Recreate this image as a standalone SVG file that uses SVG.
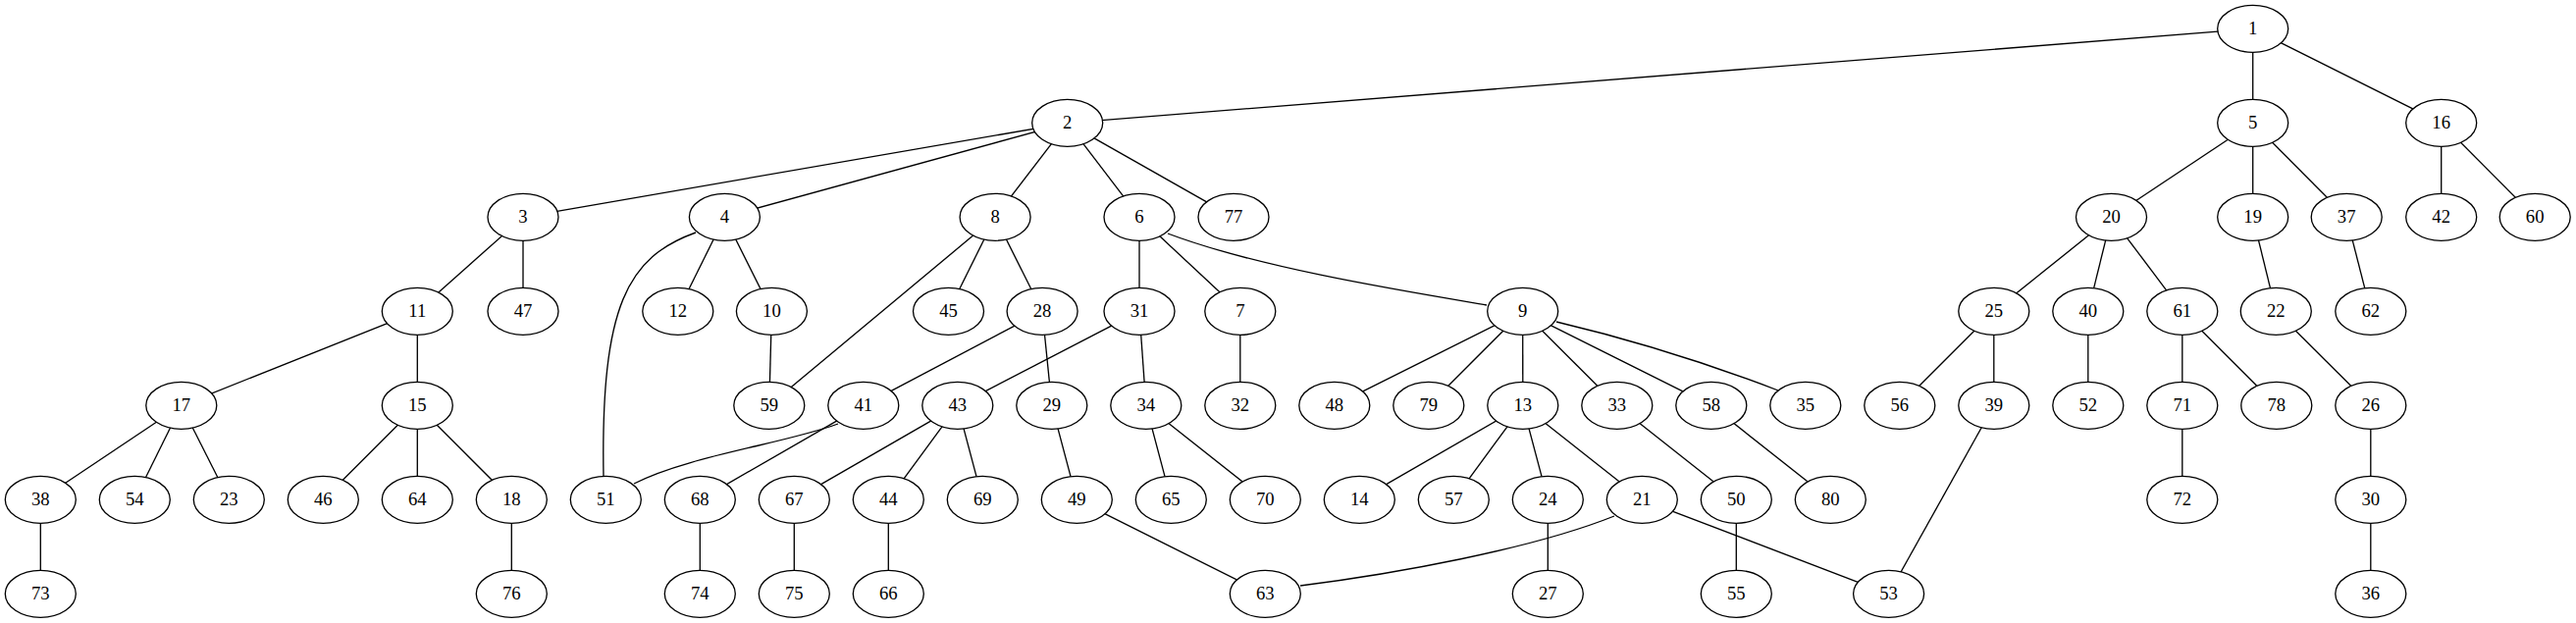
<svg xmlns="http://www.w3.org/2000/svg" width="2625" height="635" viewBox="0 0 2625 635">
<style>
.e line,.e path{stroke:#000;stroke-width:1.33;fill:none}
.n ellipse{fill:#fff;stroke:#000;stroke-width:1.33}
.n text{font-family:"Liberation Serif","Times New Roman",serif;font-size:18.67px;text-anchor:middle;fill:#000}
</style>
<rect width="2625" height="635" fill="#fff"/>
<g id="connectors" class="e">
<line x1="2295.7" y1="29.3" x2="1087.7" y2="125.3"/>
<line x1="2295.7" y1="29.3" x2="2295.7" y2="125.3"/>
<line x1="2295.7" y1="29.3" x2="2487.7" y2="125.3"/>
<line x1="1087.7" y1="125.3" x2="533" y2="221.3"/>
<line x1="1087.7" y1="125.3" x2="738.4" y2="221.3"/>
<line x1="1087.7" y1="125.3" x2="1014.1" y2="221.3"/>
<line x1="1087.7" y1="125.3" x2="1161" y2="221.3"/>
<line x1="1087.7" y1="125.3" x2="1257" y2="221.3"/>
<line x1="533" y1="221.3" x2="425.3" y2="317.3"/>
<line x1="533" y1="221.3" x2="533" y2="317.3"/>
<line x1="738.4" y1="221.3" x2="690.8" y2="317.3"/>
<line x1="738.4" y1="221.3" x2="786.4" y2="317.3"/>
<line x1="1014.1" y1="221.3" x2="783.8" y2="413.3"/>
<line x1="1014.1" y1="221.3" x2="966.5" y2="317.3"/>
<line x1="1014.1" y1="221.3" x2="1062.1" y2="317.3"/>
<line x1="1161" y1="221.3" x2="1161" y2="317.3"/>
<line x1="1161" y1="221.3" x2="1263.8" y2="317.3"/>
<line x1="2295.7" y1="125.3" x2="2151.5" y2="221.3"/>
<line x1="2295.7" y1="125.3" x2="2295.7" y2="221.3"/>
<line x1="2295.7" y1="125.3" x2="2391.2" y2="221.3"/>
<line x1="2487.7" y1="125.3" x2="2487.7" y2="221.3"/>
<line x1="2487.7" y1="125.3" x2="2583.2" y2="221.3"/>
<line x1="2151.5" y1="221.3" x2="2031.8" y2="317.3"/>
<line x1="2151.5" y1="221.3" x2="2127.8" y2="317.3"/>
<line x1="2151.5" y1="221.3" x2="2223.8" y2="317.3"/>
<line x1="2295.7" y1="221.3" x2="2319.3" y2="317.3"/>
<line x1="2391.2" y1="221.3" x2="2415.8" y2="317.3"/>
<line x1="425.3" y1="317.3" x2="184.8" y2="413.3"/>
<line x1="425.3" y1="317.3" x2="425.3" y2="413.3"/>
<line x1="786.4" y1="317.3" x2="783.8" y2="413.3"/>
<line x1="1062.1" y1="317.3" x2="879.8" y2="413.3"/>
<line x1="1062.1" y1="317.3" x2="1071.8" y2="413.3"/>
<line x1="1161" y1="317.3" x2="975.8" y2="413.3"/>
<line x1="1161" y1="317.3" x2="1167.8" y2="413.3"/>
<line x1="1263.8" y1="317.3" x2="1263.8" y2="413.3"/>
<line x1="1551.7" y1="317.3" x2="1359.8" y2="413.3"/>
<line x1="1551.7" y1="317.3" x2="1455.8" y2="413.3"/>
<line x1="1551.7" y1="317.3" x2="1551.8" y2="413.3"/>
<line x1="1551.7" y1="317.3" x2="1647.8" y2="413.3"/>
<line x1="1551.7" y1="317.3" x2="1743.8" y2="413.3"/>
<line x1="2031.8" y1="317.3" x2="1935.8" y2="413.3"/>
<line x1="2031.8" y1="317.3" x2="2031.8" y2="413.3"/>
<line x1="2127.8" y1="317.3" x2="2127.8" y2="413.3"/>
<line x1="2223.8" y1="317.3" x2="2223.8" y2="413.3"/>
<line x1="2223.8" y1="317.3" x2="2319.8" y2="413.3"/>
<line x1="2319.3" y1="317.3" x2="2415.8" y2="413.3"/>
<line x1="184.8" y1="413.3" x2="41.3" y2="509.3"/>
<line x1="184.8" y1="413.3" x2="137.3" y2="509.3"/>
<line x1="184.8" y1="413.3" x2="233.3" y2="509.3"/>
<line x1="425.3" y1="413.3" x2="329.3" y2="509.3"/>
<line x1="425.3" y1="413.3" x2="425.3" y2="509.3"/>
<line x1="425.3" y1="413.3" x2="521.3" y2="509.3"/>
<line x1="879.8" y1="413.3" x2="713.3" y2="509.3"/>
<line x1="975.8" y1="413.3" x2="809.3" y2="509.3"/>
<line x1="975.8" y1="413.3" x2="905.3" y2="509.3"/>
<line x1="975.8" y1="413.3" x2="1001.3" y2="509.3"/>
<line x1="1071.8" y1="413.3" x2="1097.3" y2="509.3"/>
<line x1="1167.8" y1="413.3" x2="1193.3" y2="509.3"/>
<line x1="1167.8" y1="413.3" x2="1289.3" y2="509.3"/>
<line x1="1551.8" y1="413.3" x2="1385.3" y2="509.3"/>
<line x1="1551.8" y1="413.3" x2="1481.3" y2="509.3"/>
<line x1="1551.8" y1="413.3" x2="1577.3" y2="509.3"/>
<line x1="1551.8" y1="413.3" x2="1673.3" y2="509.3"/>
<line x1="1647.8" y1="413.3" x2="1769.3" y2="509.3"/>
<line x1="1743.8" y1="413.3" x2="1865.3" y2="509.3"/>
<line x1="2031.8" y1="413.3" x2="1924.6" y2="605.3"/>
<line x1="2223.8" y1="413.3" x2="2223.8" y2="509.3"/>
<line x1="2415.8" y1="413.3" x2="2415.8" y2="509.3"/>
<line x1="41.3" y1="509.3" x2="41.3" y2="605.3"/>
<line x1="521.3" y1="509.3" x2="521.3" y2="605.3"/>
<line x1="713.3" y1="509.3" x2="713.3" y2="605.3"/>
<line x1="809.3" y1="509.3" x2="809.3" y2="605.3"/>
<line x1="905.3" y1="509.3" x2="905.3" y2="605.3"/>
<line x1="1097.3" y1="509.3" x2="1289.3" y2="605.3"/>
<line x1="1577.3" y1="509.3" x2="1577.3" y2="605.3"/>
<line x1="1673.3" y1="509.3" x2="1924.6" y2="605.3"/>
<line x1="1769.3" y1="509.3" x2="1769.3" y2="605.3"/>
<line x1="2415.8" y1="509.3" x2="2415.8" y2="605.3"/>
<path d="M709,237 C640,262 612,310 615,486"/>
<path d="M1190,238 C1280,272 1420,295 1515,311"/>
<path d="M854,432 C800,452 700,465 646,493"/>
<path d="M1645,526 C1560,560 1420,585 1325,597"/>
<path d="M1586,328 Q1700,355 1812,398"/>
</g>
<g id="nodes" class="n">
<g id="n1"><ellipse cx="2295.7" cy="29.3" rx="36" ry="24"/><text x="2295.7" y="35.3">1</text></g>
<g id="n2"><ellipse cx="1087.7" cy="125.3" rx="36" ry="24"/><text x="1087.7" y="131.3">2</text></g>
<g id="n5"><ellipse cx="2295.7" cy="125.3" rx="36" ry="24"/><text x="2295.7" y="131.3">5</text></g>
<g id="n16"><ellipse cx="2487.7" cy="125.3" rx="36" ry="24"/><text x="2487.7" y="131.3">16</text></g>
<g id="n3"><ellipse cx="533" cy="221.3" rx="36" ry="24"/><text x="533" y="227.3">3</text></g>
<g id="n4"><ellipse cx="738.4" cy="221.3" rx="36" ry="24"/><text x="738.4" y="227.3">4</text></g>
<g id="n8"><ellipse cx="1014.1" cy="221.3" rx="36" ry="24"/><text x="1014.1" y="227.3">8</text></g>
<g id="n6"><ellipse cx="1161" cy="221.3" rx="36" ry="24"/><text x="1161" y="227.3">6</text></g>
<g id="n77"><ellipse cx="1257" cy="221.3" rx="36" ry="24"/><text x="1257" y="227.3">77</text></g>
<g id="n20"><ellipse cx="2151.5" cy="221.3" rx="36" ry="24"/><text x="2151.5" y="227.3">20</text></g>
<g id="n19"><ellipse cx="2295.7" cy="221.3" rx="36" ry="24"/><text x="2295.7" y="227.3">19</text></g>
<g id="n37"><ellipse cx="2391.2" cy="221.3" rx="36" ry="24"/><text x="2391.2" y="227.3">37</text></g>
<g id="n42"><ellipse cx="2487.7" cy="221.3" rx="36" ry="24"/><text x="2487.7" y="227.3">42</text></g>
<g id="n60"><ellipse cx="2583.2" cy="221.3" rx="36" ry="24"/><text x="2583.2" y="227.3">60</text></g>
<g id="n11"><ellipse cx="425.3" cy="317.3" rx="36" ry="24"/><text x="425.3" y="323.3">11</text></g>
<g id="n47"><ellipse cx="533" cy="317.3" rx="36" ry="24"/><text x="533" y="323.3">47</text></g>
<g id="n12"><ellipse cx="690.8" cy="317.3" rx="36" ry="24"/><text x="690.8" y="323.3">12</text></g>
<g id="n10"><ellipse cx="786.4" cy="317.3" rx="36" ry="24"/><text x="786.4" y="323.3">10</text></g>
<g id="n45"><ellipse cx="966.5" cy="317.3" rx="36" ry="24"/><text x="966.5" y="323.3">45</text></g>
<g id="n28"><ellipse cx="1062.1" cy="317.3" rx="36" ry="24"/><text x="1062.1" y="323.3">28</text></g>
<g id="n31"><ellipse cx="1161" cy="317.3" rx="36" ry="24"/><text x="1161" y="323.3">31</text></g>
<g id="n7"><ellipse cx="1263.8" cy="317.3" rx="36" ry="24"/><text x="1263.8" y="323.3">7</text></g>
<g id="n9"><ellipse cx="1551.7" cy="317.3" rx="36" ry="24"/><text x="1551.7" y="323.3">9</text></g>
<g id="n25"><ellipse cx="2031.8" cy="317.3" rx="36" ry="24"/><text x="2031.8" y="323.3">25</text></g>
<g id="n40"><ellipse cx="2127.8" cy="317.3" rx="36" ry="24"/><text x="2127.8" y="323.3">40</text></g>
<g id="n61"><ellipse cx="2223.8" cy="317.3" rx="36" ry="24"/><text x="2223.8" y="323.3">61</text></g>
<g id="n22"><ellipse cx="2319.3" cy="317.3" rx="36" ry="24"/><text x="2319.3" y="323.3">22</text></g>
<g id="n62"><ellipse cx="2415.8" cy="317.3" rx="36" ry="24"/><text x="2415.8" y="323.3">62</text></g>
<g id="n17"><ellipse cx="184.8" cy="413.3" rx="36" ry="24"/><text x="184.8" y="419.3">17</text></g>
<g id="n15"><ellipse cx="425.3" cy="413.3" rx="36" ry="24"/><text x="425.3" y="419.3">15</text></g>
<g id="n59"><ellipse cx="783.8" cy="413.3" rx="36" ry="24"/><text x="783.8" y="419.3">59</text></g>
<g id="n41"><ellipse cx="879.8" cy="413.3" rx="36" ry="24"/><text x="879.8" y="419.3">41</text></g>
<g id="n43"><ellipse cx="975.8" cy="413.3" rx="36" ry="24"/><text x="975.8" y="419.3">43</text></g>
<g id="n29"><ellipse cx="1071.8" cy="413.3" rx="36" ry="24"/><text x="1071.8" y="419.3">29</text></g>
<g id="n34"><ellipse cx="1167.8" cy="413.3" rx="36" ry="24"/><text x="1167.8" y="419.3">34</text></g>
<g id="n32"><ellipse cx="1263.8" cy="413.3" rx="36" ry="24"/><text x="1263.8" y="419.3">32</text></g>
<g id="n48"><ellipse cx="1359.8" cy="413.3" rx="36" ry="24"/><text x="1359.8" y="419.3">48</text></g>
<g id="n79"><ellipse cx="1455.8" cy="413.3" rx="36" ry="24"/><text x="1455.8" y="419.3">79</text></g>
<g id="n13"><ellipse cx="1551.8" cy="413.3" rx="36" ry="24"/><text x="1551.8" y="419.3">13</text></g>
<g id="n33"><ellipse cx="1647.8" cy="413.3" rx="36" ry="24"/><text x="1647.8" y="419.3">33</text></g>
<g id="n58"><ellipse cx="1743.8" cy="413.3" rx="36" ry="24"/><text x="1743.8" y="419.3">58</text></g>
<g id="n35"><ellipse cx="1839.8" cy="413.3" rx="36" ry="24"/><text x="1839.8" y="419.3">35</text></g>
<g id="n56"><ellipse cx="1935.8" cy="413.3" rx="36" ry="24"/><text x="1935.8" y="419.3">56</text></g>
<g id="n39"><ellipse cx="2031.8" cy="413.3" rx="36" ry="24"/><text x="2031.8" y="419.3">39</text></g>
<g id="n52"><ellipse cx="2127.8" cy="413.3" rx="36" ry="24"/><text x="2127.8" y="419.3">52</text></g>
<g id="n71"><ellipse cx="2223.8" cy="413.3" rx="36" ry="24"/><text x="2223.8" y="419.3">71</text></g>
<g id="n78"><ellipse cx="2319.8" cy="413.3" rx="36" ry="24"/><text x="2319.8" y="419.3">78</text></g>
<g id="n26"><ellipse cx="2415.8" cy="413.3" rx="36" ry="24"/><text x="2415.8" y="419.3">26</text></g>
<g id="n38"><ellipse cx="41.3" cy="509.3" rx="36" ry="24"/><text x="41.3" y="515.3">38</text></g>
<g id="n54"><ellipse cx="137.3" cy="509.3" rx="36" ry="24"/><text x="137.3" y="515.3">54</text></g>
<g id="n23"><ellipse cx="233.3" cy="509.3" rx="36" ry="24"/><text x="233.3" y="515.3">23</text></g>
<g id="n46"><ellipse cx="329.3" cy="509.3" rx="36" ry="24"/><text x="329.3" y="515.3">46</text></g>
<g id="n64"><ellipse cx="425.3" cy="509.3" rx="36" ry="24"/><text x="425.3" y="515.3">64</text></g>
<g id="n18"><ellipse cx="521.3" cy="509.3" rx="36" ry="24"/><text x="521.3" y="515.3">18</text></g>
<g id="n51"><ellipse cx="617.3" cy="509.3" rx="36" ry="24"/><text x="617.3" y="515.3">51</text></g>
<g id="n68"><ellipse cx="713.3" cy="509.3" rx="36" ry="24"/><text x="713.3" y="515.3">68</text></g>
<g id="n67"><ellipse cx="809.3" cy="509.3" rx="36" ry="24"/><text x="809.3" y="515.3">67</text></g>
<g id="n44"><ellipse cx="905.3" cy="509.3" rx="36" ry="24"/><text x="905.3" y="515.3">44</text></g>
<g id="n69"><ellipse cx="1001.3" cy="509.3" rx="36" ry="24"/><text x="1001.3" y="515.3">69</text></g>
<g id="n49"><ellipse cx="1097.3" cy="509.3" rx="36" ry="24"/><text x="1097.3" y="515.3">49</text></g>
<g id="n65"><ellipse cx="1193.3" cy="509.3" rx="36" ry="24"/><text x="1193.3" y="515.3">65</text></g>
<g id="n70"><ellipse cx="1289.3" cy="509.3" rx="36" ry="24"/><text x="1289.3" y="515.3">70</text></g>
<g id="n14"><ellipse cx="1385.3" cy="509.3" rx="36" ry="24"/><text x="1385.3" y="515.3">14</text></g>
<g id="n57"><ellipse cx="1481.3" cy="509.3" rx="36" ry="24"/><text x="1481.3" y="515.3">57</text></g>
<g id="n24"><ellipse cx="1577.3" cy="509.3" rx="36" ry="24"/><text x="1577.3" y="515.3">24</text></g>
<g id="n21"><ellipse cx="1673.3" cy="509.3" rx="36" ry="24"/><text x="1673.3" y="515.3">21</text></g>
<g id="n50"><ellipse cx="1769.3" cy="509.3" rx="36" ry="24"/><text x="1769.3" y="515.3">50</text></g>
<g id="n80"><ellipse cx="1865.3" cy="509.3" rx="36" ry="24"/><text x="1865.3" y="515.3">80</text></g>
<g id="n72"><ellipse cx="2223.8" cy="509.3" rx="36" ry="24"/><text x="2223.8" y="515.3">72</text></g>
<g id="n30"><ellipse cx="2415.8" cy="509.3" rx="36" ry="24"/><text x="2415.8" y="515.3">30</text></g>
<g id="n73"><ellipse cx="41.3" cy="605.3" rx="36" ry="24"/><text x="41.3" y="611.3">73</text></g>
<g id="n76"><ellipse cx="521.3" cy="605.3" rx="36" ry="24"/><text x="521.3" y="611.3">76</text></g>
<g id="n74"><ellipse cx="713.3" cy="605.3" rx="36" ry="24"/><text x="713.3" y="611.3">74</text></g>
<g id="n75"><ellipse cx="809.3" cy="605.3" rx="36" ry="24"/><text x="809.3" y="611.3">75</text></g>
<g id="n66"><ellipse cx="905.3" cy="605.3" rx="36" ry="24"/><text x="905.3" y="611.3">66</text></g>
<g id="n63"><ellipse cx="1289.3" cy="605.3" rx="36" ry="24"/><text x="1289.3" y="611.3">63</text></g>
<g id="n27"><ellipse cx="1577.3" cy="605.3" rx="36" ry="24"/><text x="1577.3" y="611.3">27</text></g>
<g id="n55"><ellipse cx="1769.3" cy="605.3" rx="36" ry="24"/><text x="1769.3" y="611.3">55</text></g>
<g id="n53"><ellipse cx="1924.6" cy="605.3" rx="36" ry="24"/><text x="1924.6" y="611.3">53</text></g>
<g id="n36"><ellipse cx="2415.8" cy="605.3" rx="36" ry="24"/><text x="2415.8" y="611.3">36</text></g>
</g>
</svg>
